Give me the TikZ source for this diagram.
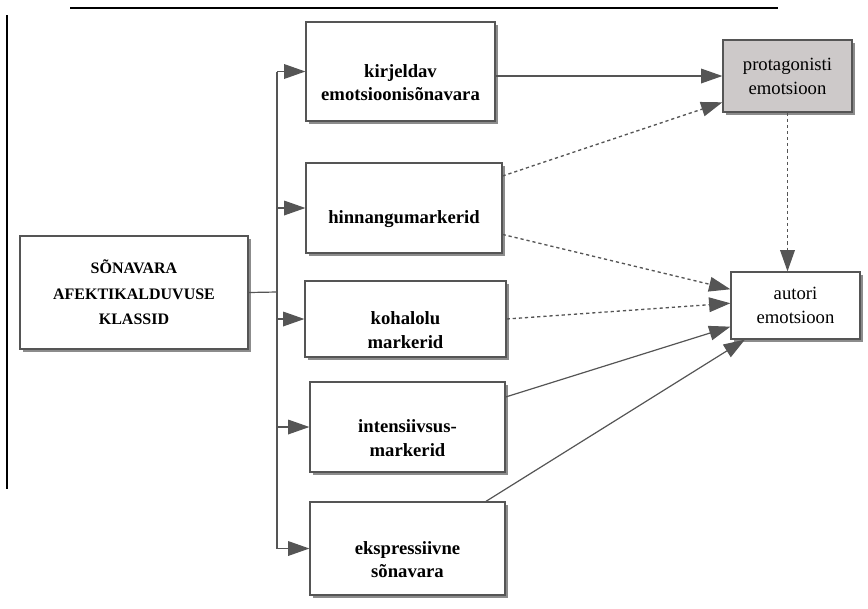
\documentclass[tikz,border=0pt]{standalone}
\usepackage{fontspec}
\setmainfont{Liberation Serif}
\usetikzlibrary{arrows.meta, positioning, shadows}
\definecolor{edge}{RGB}{85,85,85}
\definecolor{greybox}{RGB}{205,201,201}

\begin{document}
\begin{tikzpicture}[x=0.75pt, y=-0.75pt,
    box/.style={draw=edge, line width=0.9pt, fill=white, align=center, inner sep=0pt,
      drop shadow={shadow xshift=2.2pt, shadow yshift=-2.2pt, fill=black!45, opacity=1}},
    classtext/.style={font=\bfseries\fontsize{14}{17.5}\selectfont, align=center, yshift=-8.25pt},
    plaintext/.style={font=\fontsize{14}{18}\selectfont},
    arr/.style={draw=edge, line width=0.9pt, -{Triangle[length=16pt, width=11pt]}},
    dots/.style={arr, line width=1pt, dash pattern=on 2.4pt off 2.2pt}]
    \useasboundingbox (0,0) rectangle (868,608);

    % page edges
    \draw[line width=1.2pt] (70,8) -- (778,8);
    \draw[line width=1.2pt] (7,15) -- (7,489);

    % main box on the left
    \node[box, minimum width=171pt, minimum height=84.75pt,
      font=\bfseries\fontsize{12}{19}\selectfont] (main) at (134,292.5)
      {SÕNAVARA\\AFEKTIKALDUVUSE\\KLASSID};

    % the five classes (text sits low in the box)
    \node[box, minimum width=141.75pt, minimum height=74.25pt,
      label={[classtext]center:{kirjeldav\\emotsioonisõnavara}}] (kirj) at (400.5,71.5) {};
    \node[box, minimum width=147pt, minimum height=67.5pt,
      label={[classtext]center:hinnangumarkerid}] (hinn) at (404,208) {};
    \node[box, minimum width=150.75pt, minimum height=57pt,
      label={[classtext]center:{kohalolu\\markerid}}] (koha) at (405.5,319) {};
    \node[box, minimum width=146.25pt, minimum height=67.5pt,
      label={[classtext]center:{intensiivsus-\\markerid}}] (inte) at (407.5,427) {};
    \node[box, minimum width=146.25pt, minimum height=69.75pt,
      label={[classtext]center:{ekspressiivne\\sõnavara}}] (ekspr) at (407.5,548.5) {};

    % emotions on the right
    \node[box, plaintext, fill=greybox, minimum width=96.75pt, minimum height=54pt] (prot) at (787.5,76)
      {protagonisti\\emotsioon};
    \node[box, plaintext, minimum width=96.75pt, minimum height=50.25pt] (autor) at (795.5,305.5)
      {autori\\emotsioon};

    % trunk from the main box
    \coordinate (trunk) at (277,292);
    \draw[edge, line width=0.9pt] (main.east) -- (trunk);
    \draw[edge, line width=0.9pt] (trunk |- kirj.west) -- (trunk |- ekspr.west);
    \foreach \cls in {kirj, hinn, koha, inte, ekspr}
      \draw[arr] (trunk |- \cls.west) -- (\cls.west);

    % links to the emotions
    \draw[arr] (kirj.east |- prot.west) -- (prot.west);
    \draw[dots] (hinn.18) -- (prot.202);
    \draw[dots] (hinn.-15) -- (autor.166);
    \draw[dots] (koha.east) -- (autor.178);
    \draw[arr] (inte.17) -- (autor.198);
    \draw[arr] (ekspr.31) -- (autor.214);
    \draw[dots] (prot.south) -- (prot.south |- autor.north);
\end{tikzpicture}
\end{document}
